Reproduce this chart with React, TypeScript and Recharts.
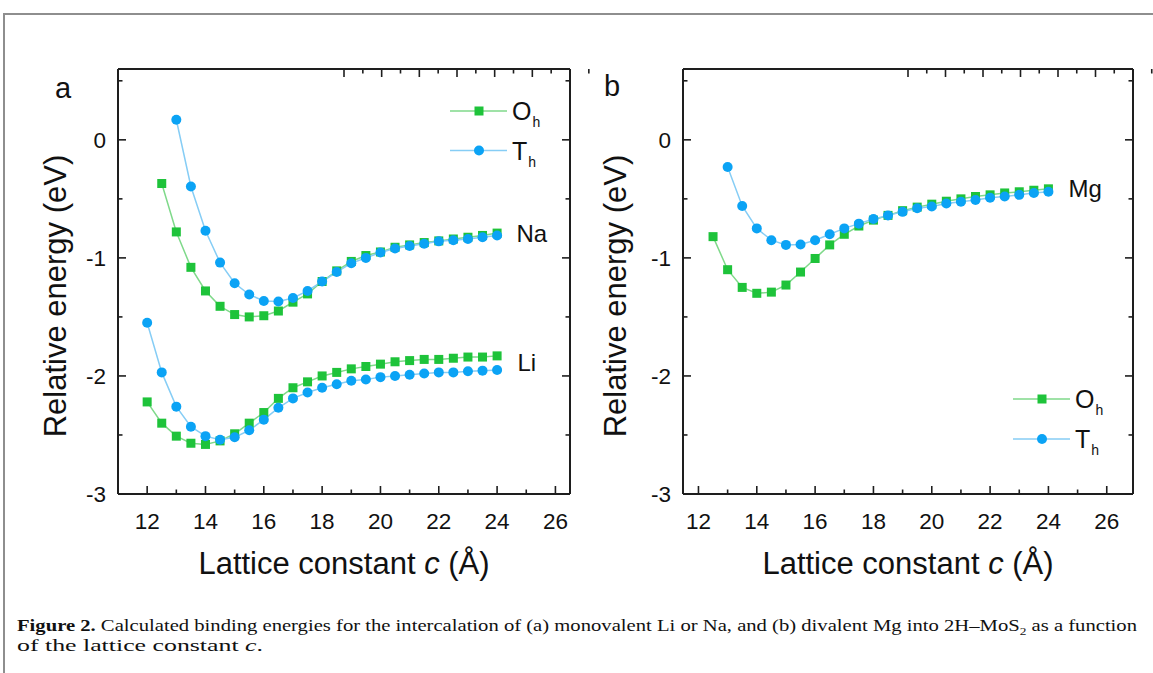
import React from 'react';
import { LineChart, Line, XAxis, YAxis, Legend, ReferenceDot } from 'recharts';

// ---------- data ----------
const latticeC = [12, 12.5, 13, 13.5, 14, 14.5, 15, 15.5, 16, 16.5, 17, 17.5, 18, 18.5, 19, 19.5, 20, 20.5, 21, 21.5, 22, 22.5, 23, 23.5, 24];

const liOh = [-2.22, -2.4, -2.51, -2.57, -2.58, -2.55, -2.49, -2.4, -2.31, -2.19, -2.1, -2.05, -2.0, -1.97, -1.94, -1.92, -1.9, -1.88, -1.87, -1.86, -1.86, -1.85, -1.84, -1.84, -1.83];
const liTh = [-1.55, -1.97, -2.26, -2.43, -2.51, -2.54, -2.52, -2.46, -2.37, -2.27, -2.19, -2.14, -2.1, -2.07, -2.04, -2.03, -2.01, -2.0, -1.99, -1.98, -1.97, -1.97, -1.96, -1.955, -1.95];
const naOh = [null, -0.37, -0.78, -1.08, -1.28, -1.41, -1.48, -1.5, -1.49, -1.45, -1.375, -1.305, -1.2, -1.11, -1.03, -0.98, -0.95, -0.91, -0.89, -0.87, -0.856, -0.84, -0.825, -0.81, -0.79];
const naTh = [null, null, 0.17, -0.395, -0.77, -1.04, -1.215, -1.31, -1.365, -1.37, -1.34, -1.28, -1.2, -1.12, -1.045, -1.0, -0.955, -0.92, -0.9, -0.88, -0.86, -0.85, -0.84, -0.825, -0.81];
const mgOh = [null, -0.82, -1.1, -1.25, -1.3, -1.29, -1.23, -1.12, -1.005, -0.89, -0.8, -0.73, -0.68, -0.64, -0.6, -0.57, -0.545, -0.52, -0.5, -0.48, -0.466, -0.45, -0.44, -0.427, -0.415];
const mgTh = [null, null, -0.23, -0.56, -0.75, -0.85, -0.89, -0.887, -0.85, -0.8, -0.75, -0.71, -0.67, -0.64, -0.61, -0.58, -0.565, -0.54, -0.525, -0.51, -0.49, -0.48, -0.466, -0.45, -0.44];

const xTicksA = [12, 13, 14, 15, 16, 17, 18, 19, 20, 21, 22, 23, 24, 25, 26];
const xTicksB = [12, 13, 14, 15, 16, 17, 18, 19, 20, 21, 22, 23, 24, 25, 26];
const yTicks = [-3, -2.5, -2, -1.5, -1, -0.5, 0, 0.5];
const xDomainA: [number, number] = [11, 26.5];
const xDomainB: [number, number] = [11.47, 26.9];
const yDomain: [number, number] = [-3, 0.6];

const legendNames = ['O', 'T'];
const legendSub = 'h';
const xTitle = 'Lattice constant ';
const yTitle = 'Relative energy (eV)';

const dataA = latticeC.map((c, i) => ({ c, liOh: liOh[i], liTh: liTh[i], naOh: naOh[i], naTh: naTh[i] }));
const dataB = latticeC.map((c, i) => ({ c, mgOh: mgOh[i], mgTh: mgTh[i] }));

// ---------- styles ----------
const AXIS = '#1e1e1e';
const GREEN = '#1ec33a';
const GREEN_LINE = '#7fd98a';
const BLUE = '#0ba3f5';
const BLUE_LINE = '#86cdf5';
const FONT = '"Liberation Sans", Arial, sans-serif';

const squareDot = (props: any) => {
  const { cx, cy, index } = props;
  if (cx == null || cy == null || props.value == null) return <g key={`s-${index}`} />;
  return <rect key={`s-${index}`} x={cx - 4.5} y={cy - 4.5} width={9} height={9} fill={GREEN} />;
};
const circleDot = (props: any) => {
  const { cx, cy, index } = props;
  if (cx == null || cy == null || props.value == null) return <g key={`c-${index}`} />;
  return <circle key={`c-${index}`} cx={cx} cy={cy} r={5} fill={BLUE} />;
};

const BottomTick = (props: any) => {
  const { x, y, payload } = props;
  const v = payload.value;
  const major = v % 2 === 0;
  return (
    <g>
      <line x1={x} y1={y} x2={x} y2={y - (major ? 8 : 4.5)} stroke={AXIS} strokeWidth={1.6} />
      {major && (
        <text x={x} y={y + 35} textAnchor="middle" fontSize={22.5} fill="#111" fontFamily={FONT}>
          {v}
        </text>
      )}
    </g>
  );
};
const TopTick = (props: any) => {
  const { x, y, payload } = props;
  const major = payload.value % 2 === 0;
  return <line x1={x} y1={y} x2={x} y2={y + (major ? 8 : 4.5)} stroke={AXIS} strokeWidth={1.6} />;
};
const LeftTick = (props: any) => {
  const { x, y, payload } = props;
  const v = payload.value;
  const major = Number.isInteger(v);
  return (
    <g>
      <line x1={x} y1={y} x2={x + (major ? 8 : 4.5)} y2={y} stroke={AXIS} strokeWidth={1.6} />
      {major && (
        <text x={x - 12} y={y + 8} textAnchor="end" fontSize={22.5} fill="#111" fontFamily={FONT}>
          {String(v)}
        </text>
      )}
    </g>
  );
};
const RightTick = (props: any) => {
  const { x, y, payload } = props;
  const major = Number.isInteger(payload.value);
  return <line x1={x} y1={y} x2={x - (major ? 8 : 4.5)} y2={y} stroke={AXIS} strokeWidth={1.6} />;
};

const LegendBox = ({ gap }: { gap: number }) => (
  <svg width={125} height={85} style={{ display: 'block', overflow: 'visible' }}>
    {legendNames.map((name, i) => {
      const cy = 21 + i * gap;
      const isSq = i === 0;
      return (
        <g key={name}>
          <line x1={5} x2={62} y1={cy} y2={cy} stroke={isSq ? GREEN_LINE : BLUE_LINE} strokeWidth={1.5} />
          {isSq ? (
            <rect x={34 - 4.5} y={cy - 4.5} width={9} height={9} fill={GREEN} />
          ) : (
            <circle cx={34} cy={cy} r={5} fill={BLUE} />
          )}
          <text x={67} y={cy + 9} fontSize={25} fill="#111" fontFamily={FONT}>
            {name}
            <tspan fontSize={14} dy={7} dx={1}>
              {legendSub}
            </tspan>
          </text>
        </g>
      );
    })}
  </svg>
);

const axisLineStyle = { stroke: AXIS, strokeWidth: 2 };

const commonAxes = (domain: [number, number], xTicks: number[]) => [
  <XAxis
    key="xb"
    type="number"
    dataKey="c"
    domain={domain}
    allowDataOverflow
    ticks={xTicks}
    interval={0}
    height={60}
    tickSize={0}
    tickMargin={0}
    tickLine={false}
    axisLine={axisLineStyle}
    tick={(p: any) => <BottomTick {...p} />}
  />,
  <XAxis
    key="xt"
    xAxisId="top"
    orientation="top"
    type="number"
    domain={domain}
    allowDataOverflow
    ticks={xTicks}
    interval={0}
    height={1}
    tickSize={0}
    tickMargin={0}
    tickLine={false}
    axisLine={axisLineStyle}
    tick={(p: any) => <TopTick {...p} />}
  />,
  <YAxis
    key="yl"
    type="number"
    domain={yDomain}
    allowDataOverflow
    ticks={yTicks}
    interval={0}
    width={60}
    tickSize={0}
    tickMargin={0}
    tickLine={false}
    axisLine={axisLineStyle}
    tick={(p: any) => <LeftTick {...p} />}
  />,
  <YAxis
    key="yr"
    yAxisId="right"
    orientation="right"
    type="number"
    domain={yDomain}
    allowDataOverflow
    ticks={yTicks}
    interval={0}
    width={1}
    tickSize={0}
    tickMargin={0}
    tickLine={false}
    axisLine={axisLineStyle}
    tick={(p: any) => <RightTick {...p} />}
  />,
];

const labelStyle = { fontSize: 24, fill: '#111', fontFamily: FONT };

export default function App() {
  return (
    <div
      style={{
        position: 'absolute',
        left: 0,
        top: 0,
        width: 1153,
        height: 673,
        background: '#fff',
        overflow: 'hidden',
        fontFamily: FONT,
        color: '#111',
      }}
    >
      {/* page frame */}
      <div
        style={{
          position: 'absolute',
          left: 3,
          top: 13,
          width: 1200,
          height: 700,
          borderTop: '2px solid #8e8e8e',
          borderLeft: '2px solid #8e8e8e',
        }}
      />

      {/* Panel a */}
      <div style={{ position: 'absolute', left: 0, top: 0 }}>
        <LineChart width={600} height={600} data={dataA} margin={{ top: 68, right: 29, bottom: 46, left: 58 }}>
          {commonAxes(xDomainA, xTicksA)}
          <Line dataKey="liOh" stroke={GREEN_LINE} strokeWidth={1.5} dot={squareDot} activeDot={false} isAnimationActive={false} />
          <Line dataKey="naOh" stroke={GREEN_LINE} strokeWidth={1.5} dot={squareDot} activeDot={false} isAnimationActive={false} />
          <Line dataKey="liTh" stroke={BLUE_LINE} strokeWidth={1.5} dot={circleDot} activeDot={false} isAnimationActive={false} />
          <Line dataKey="naTh" stroke={BLUE_LINE} strokeWidth={1.5} dot={circleDot} activeDot={false} isAnimationActive={false} />
          <ReferenceDot x={25.19} y={-0.79} r={0} fill="none" stroke="none" label={{ value: 'Na', position: 'center', ...labelStyle }} />
          <ReferenceDot x={25.02} y={-1.884} r={0} fill="none" stroke="none" label={{ value: 'Li', position: 'center', ...labelStyle }} />
          <Legend
            layout="vertical"
            align="center"
            verticalAlign="middle"
            wrapperStyle={{ left: 445, top: 90, width: 125 }}
            content={() => <LegendBox gap={39.5} />}
          />
        </LineChart>
      </div>

      {/* Panel b */}
      <div style={{ position: 'absolute', left: 560, top: 0 }}>
        <LineChart width={593} height={600} data={dataB} margin={{ top: 68, right: 19, bottom: 46, left: 63 }}>
          {commonAxes(xDomainB, xTicksB)}
          <Line dataKey="mgOh" stroke={GREEN_LINE} strokeWidth={1.5} dot={squareDot} activeDot={false} isAnimationActive={false} />
          <Line dataKey="mgTh" stroke={BLUE_LINE} strokeWidth={1.5} dot={circleDot} activeDot={false} isAnimationActive={false} />
          <ReferenceDot x={25.26} y={-0.41} r={0} fill="none" stroke="none" label={{ value: 'Mg', position: 'center', ...labelStyle }} />
          <Legend
            layout="vertical"
            align="center"
            verticalAlign="middle"
            wrapperStyle={{ left: 448, top: 378, width: 125 }}
            content={() => <LegendBox gap={40} />}
          />
        </LineChart>
      </div>

      {/* panel letters */}
      <div style={{ position: 'absolute', left: 63, top: 88, transform: 'translate(-50%,-50%)', fontSize: 29, lineHeight: 1 }}>a</div>
      <div style={{ position: 'absolute', left: 612, top: 86, transform: 'translate(-50%,-50%)', fontSize: 29, lineHeight: 1 }}>b</div>

      {/* axis titles */}
      {[344, 908].map((cx) => (
        <div
          key={`xt-${cx}`}
          style={{
            position: 'absolute',
            left: cx,
            top: 563,
            transform: 'translate(-50%,-50%)',
            fontSize: 31,
            lineHeight: 1,
            whiteSpace: 'nowrap',
          }}
        >
          {xTitle}
          <i>c</i> (Å)
        </div>
      ))}
      {[55, 615].map((cx) => (
        <div
          key={`yt-${cx}`}
          style={{
            position: 'absolute',
            left: cx,
            top: 296,
            transform: 'translate(-50%,-50%) rotate(-90deg)',
            fontSize: 31,
            lineHeight: 1,
            whiteSpace: 'nowrap',
          }}
        >
          {yTitle}
        </div>
      ))}

      {/* caption */}
      <svg style={{ position: 'absolute', left: 0, top: 600 }} width={1153} height={73}>
        <text x={17} y={31} fontSize={17} fontFamily='"Liberation Serif", "Times New Roman", serif' fill="#111" textLength={1120} lengthAdjust="spacingAndGlyphs">
          <tspan fontWeight="bold">Figure 2.</tspan> Calculated binding energies for the intercalation of (a) monovalent Li or Na, and (b) divalent Mg into 2H–MoS
          <tspan fontSize={11} dy={4}>2</tspan>
          <tspan dy={-4}> as a function</tspan>
        </text>
        <text x={17} y={51} fontSize={17} fontFamily='"Liberation Serif", "Times New Roman", serif' fill="#111" textLength={246} lengthAdjust="spacingAndGlyphs">
          of the lattice constant <tspan fontStyle="italic">c</tspan>.
        </text>
      </svg>
    </div>
  );
}
